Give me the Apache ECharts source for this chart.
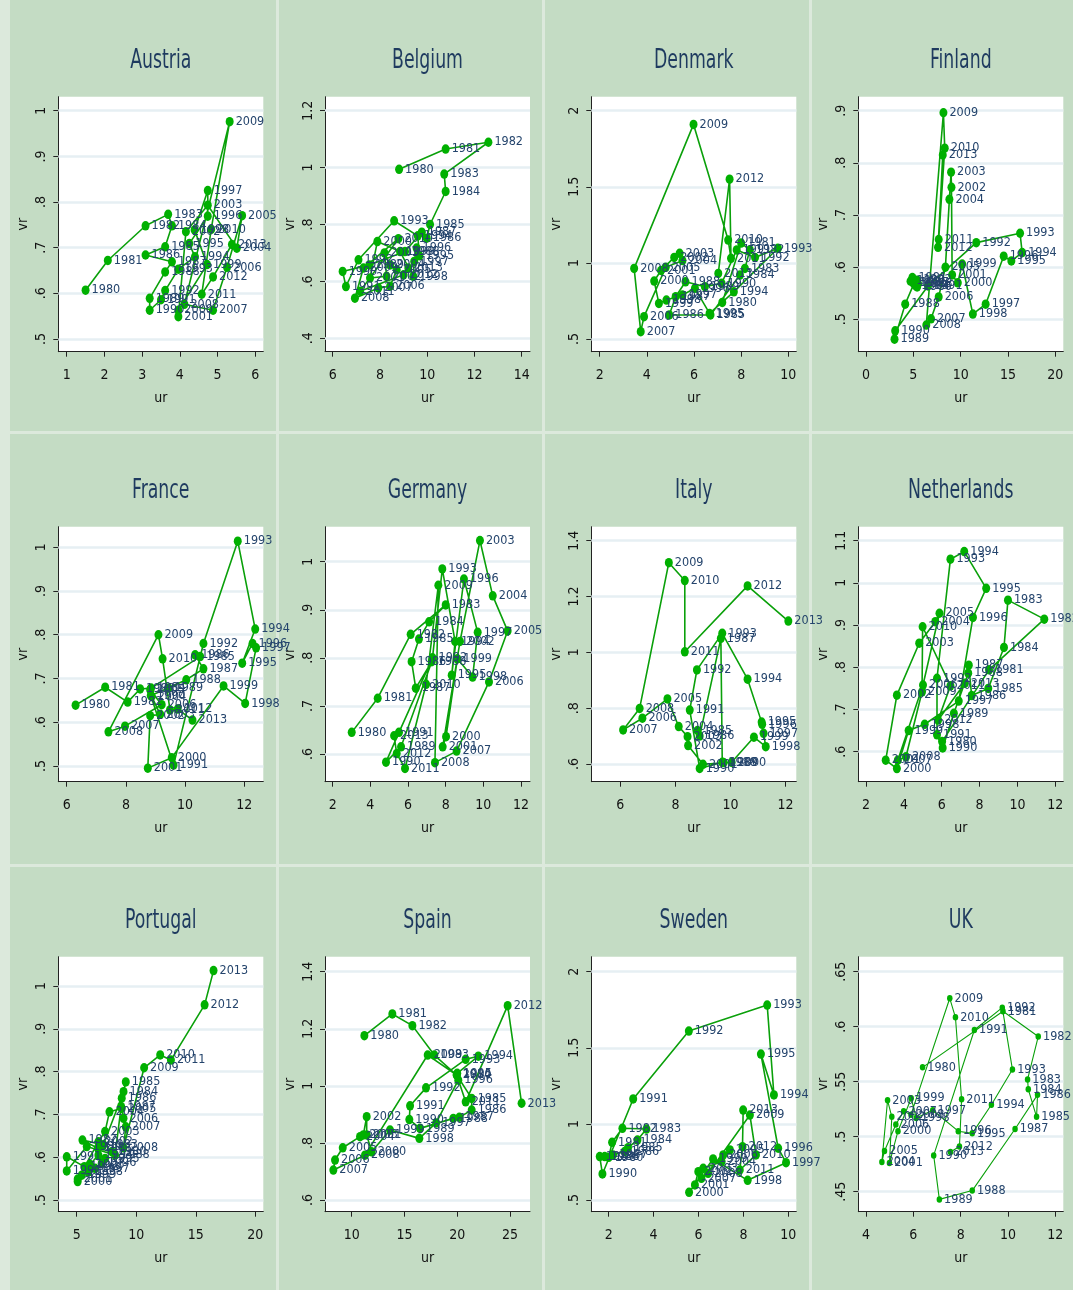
<!DOCTYPE html>
<html>
<head>
<meta charset="utf-8">
<script src="https://cdn.jsdelivr.net/npm/echarts@6/dist/echarts.min.js"></script>
<style>
  html, body { margin: 0; padding: 0; }
  #chart { width: 1073px; height: 1290px; }
</style>
</head>
<body>
<div id="chart"></div>
<script>
// beveridge curves, vr vs ur, one panel per country
var years = [1980,1981,1982,1983,1984,1985,1986,1987,1988,1989,1990,1991,1992,1993,1994,1995,1996,
  1997,1998,1999,2000,2001,2002,2003,2004,2005,2006,2007,2008,2009,2010,2011,2012,2013];

var austriaUr = [1.50,2.09,3.09,3.69,3.79,3.61,3.09,3.79,3.61,3.20,3.20,3.50,3.61,3.96,4.40,4.25,4.74,
  4.74,4.39,4.72,3.96,3.96,4.16,4.74,5.51,5.65,5.25,4.88,4.12,5.32,4.83,4.58,4.88,5.38];
var austriaVr = [0.607,0.672,0.748,0.773,0.748,0.702,0.684,0.669,0.647,0.589,0.563,0.586,0.606,0.653,0.680,0.709,0.769,
  0.825,0.739,0.663,0.563,0.549,0.735,0.793,0.699,0.770,0.657,0.563,0.576,0.976,0.740,0.598,0.636,0.707];

var belgiumUr = [8.81,10.78,12.59,10.72,10.78,10.12,9.98,9.77,9.06,7.55,6.42,6.56,7.09,8.60,9.60,9.67,9.55,
  9.45,9.41,8.85,7.89,7.58,8.28,8.19,8.43,8.71,8.43,7.93,6.94,7.30,8.78,7.16,9.00,9.20];
var belgiumVr = [0.994,1.065,1.089,0.977,0.916,0.800,0.752,0.773,0.705,0.658,0.635,0.582,0.676,0.813,0.760,0.690,0.717,
  0.670,0.618,0.705,0.740,0.612,0.618,0.700,0.658,0.641,0.583,0.577,0.541,0.647,0.750,0.565,0.623,0.647];

var denmarkUr = [7.20,8.00,8.37,8.16,7.95,6.70,4.95,5.22,5.64,6.46,7.17,7.81,8.59,9.56,7.69,6.66,6.04,
  5.51,4.83,4.51,4.31,4.60,5.16,5.39,5.51,4.80,3.88,3.74,3.46,5.98,7.45,7.57,7.51,7.03];
var denmarkVr = [0.74,1.13,1.085,0.964,0.92,0.658,0.658,0.778,0.876,0.844,0.866,1.085,1.036,1.096,0.81,0.668,0.833,
  0.789,0.756,0.734,0.881,0.95,1.036,1.063,1.015,0.971,0.647,0.548,0.964,1.91,1.15,1.03,1.55,0.931];

var finlandUr = [4.7,4.9,5.4,5.5,5.2,5.0,5.4,5.1,4.14,3.01,3.08,6.55,11.65,16.28,16.5,15.36,14.55,
  12.64,11.29,10.16,9.7,9.1,9.03,8.99,8.81,8.39,7.68,6.87,6.37,8.18,8.32,7.68,7.61,8.11];
var finlandVr = [0.573,0.58,0.575,0.568,0.565,0.57,0.562,0.57,0.529,0.462,0.478,0.564,0.647,0.665,0.628,0.612,0.621,
  0.529,0.510,0.606,0.570,0.585,0.753,0.782,0.730,0.600,0.543,0.501,0.489,0.896,0.828,0.653,0.638,0.815];

var franceUr = [6.30,7.30,8.06,8.48,8.85,10.51,10.34,10.62,10.04,9.44,8.84,9.61,10.62,11.78,12.37,11.93,12.28,
  12.40,12.03,11.30,9.55,8.74,8.82,9.16,8.87,8.82,9.21,7.97,7.41,9.10,9.24,9.49,9.75,10.25];
var franceVr = [0.639,0.680,0.646,0.676,0.678,0.750,0.754,0.722,0.697,0.678,0.661,0.502,0.780,1.014,0.813,0.735,0.780,
  0.770,0.643,0.683,0.519,0.495,0.615,0.618,0.659,0.674,0.640,0.591,0.578,0.800,0.745,0.628,0.630,0.605];

var germanyUr = [3.01,4.39,6.14,8.00,7.12,6.58,6.19,6.41,7.26,5.63,4.83,5.52,7.30,7.82,8.50,8.32,8.97,
  9.70,9.43,8.62,8.02,7.84,8.76,9.82,10.50,11.29,10.30,8.58,7.43,7.61,6.96,5.84,5.40,5.26];
var germanyVr = [0.645,0.716,0.849,0.910,0.875,0.839,0.792,0.737,0.792,0.615,0.583,0.645,0.800,0.985,0.834,0.764,0.964,
  0.853,0.760,0.798,0.636,0.615,0.834,1.044,0.929,0.856,0.750,0.606,0.582,0.951,0.745,0.570,0.601,0.638];

var italyUr = [null,null,null,null,null,8.80,8.88,9.65,9.70,9.75,8.88,8.52,8.78,9.70,10.62,11.13,11.15,
  11.20,11.28,10.85,10.04,9.00,8.46,8.44,8.12,7.71,6.80,6.10,6.70,7.76,8.34,8.34,10.62,12.10];
var italyVr = [null,null,null,null,null,0.72,0.70,1.050,0.606,0.605,0.584,0.793,0.937,1.068,0.904,0.750,0.742,
  0.710,0.662,0.696,0.606,0.599,0.666,0.698,0.734,0.833,0.764,0.722,0.799,1.321,1.257,1.002,1.238,1.112];

var netherlandsUr = [6.02,8.50,11.42,9.50,9.29,8.46,7.58,7.43,7.40,6.64,6.05,5.75,5.75,6.46,7.19,8.35,7.65,
  6.90,5.10,4.25,3.63,3.04,3.63,4.81,5.66,5.88,5.01,3.68,4.11,4.96,4.99,6.46,5.81,7.22];
var netherlandsVr = [0.624,0.794,0.914,0.959,0.847,0.750,0.733,0.805,0.786,0.691,0.609,0.640,0.774,1.056,1.074,0.987,0.918,
  0.720,0.665,0.650,0.560,0.580,0.734,0.857,0.908,0.928,0.758,0.580,0.588,0.742,0.896,0.756,0.675,0.762];

var portugalUr = [7.94,6.77,5.48,7.24,8.93,9.12,8.78,8.73,8.22,5.84,4.16,4.16,5.64,6.12,6.82,7.38,7.10,
  6.54,5.98,5.42,5.08,5.08,6.82,7.38,7.75,8.78,8.93,9.12,8.93,10.66,12.01,12.91,15.74,16.49];
var portugalVr = [0.613,0.621,0.640,0.629,0.753,0.776,0.738,0.718,0.605,0.625,0.568,0.601,0.578,0.583,0.605,0.597,0.586,
  0.574,0.566,0.558,0.543,0.549,0.636,0.660,0.706,0.714,0.691,0.671,0.622,0.809,0.839,0.827,0.956,1.036];

var spainUr = [11.20,13.85,15.75,17.83,19.95,21.37,21.37,20.20,19.63,16.47,15.46,15.53,17.04,20.80,22.00,20.00,20.10,
  18.00,16.41,13.63,11.89,11.42,11.42,11.10,10.79,9.15,8.42,8.26,11.26,17.20,19.95,20.80,24.78,26.10];
var spainVr = [1.176,1.252,1.211,1.108,1.038,0.956,0.915,0.890,0.886,0.851,0.882,0.930,0.993,1.093,1.104,1.044,1.020,
  0.870,0.816,0.845,0.769,0.828,0.892,0.828,0.822,0.783,0.740,0.705,0.757,1.108,1.038,0.944,1.281,0.939];

var swedenUr = [2.00,2.15,2.61,3.68,3.28,2.86,2.71,2.19,1.82,1.60,1.72,3.09,5.57,9.06,9.36,8.78,9.55,
  9.90,8.19,6.65,5.58,5.84,5.99,6.21,7.03,7.40,7.10,6.13,6.43,8.29,8.56,7.84,7.96,7.99];
var swedenVr = [0.780,0.879,0.971,0.966,0.894,0.844,0.818,0.796,0.785,0.785,0.671,1.164,1.610,1.781,1.190,1.459,0.840,
  0.745,0.629,0.770,0.550,0.599,0.686,0.708,0.752,0.829,0.796,0.642,0.675,1.058,0.796,0.697,0.850,1.091];

var ukUr = [6.39,9.79,11.28,10.83,10.86,11.21,11.25,10.30,8.49,7.10,6.86,8.58,9.76,10.19,9.30,8.49,7.90,
  6.82,6.12,5.91,5.35,4.99,5.09,4.91,4.67,4.78,5.26,5.59,5.90,7.54,7.78,8.04,7.95,7.57];
var ukVr = [0.563,0.614,0.591,0.552,0.543,0.518,0.538,0.507,0.451,0.443,0.483,0.597,0.6173,0.561,0.529,0.503,0.505,
  0.524,0.517,0.535,0.505,0.476,0.518,0.533,0.477,0.487,0.511,0.523,0.520,0.6258,0.6085,0.534,0.491,0.486];

// tick values
var austriaX = [1,2,3,4,5,6],        austriaY = [0.5,0.6,0.7,0.8,0.9,1];
var belgiumX = [6,8,10,12,14],       belgiumY = [0.4,0.6,0.8,1,1.2];
var denmarkX = [2,4,6,8,10],         denmarkY = [0.5,1,1.5,2];
var finlandX = [0,5,10,15,20],       finlandY = [0.5,0.6,0.7,0.8,0.9];
var franceX = [6,8,10,12],           franceY = [0.5,0.6,0.7,0.8,0.9,1];
var germanyX = [2,4,6,8,10,12],      germanyY = [0.6,0.7,0.8,0.9,1];
var italyX = [6,8,10,12],            italyY = [0.6,0.8,1,1.2,1.4];
var netherlandsX = [2,4,6,8,10,12],  netherlandsY = [0.6,0.7,0.8,0.9,1,1.1];
var portugalX = [5,10,15,20],        portugalY = [0.5,0.6,0.7,0.8,0.9,1];
var spainX = [10,15,20,25],          spainY = [0.6,0.8,1,1.2,1.4];
var swedenX = [2,4,6,8,10],          swedenY = [0.5,1,1.5,2];
var ukX = [4,6,8,10,12],             ukY = [0.45,0.5,0.55,0.6,0.65];

var panels = [
  {name:'Austria', ur:austriaUr, vr:austriaVr, xt:austriaX, yt:austriaY, xr:[0.777,6.212], yr:[0.4722,1.0307]},
  {name:'Belgium', ur:belgiumUr, vr:belgiumVr, xt:belgiumX, yt:belgiumY, xr:[5.674,14.35], yr:[0.353,1.249]},
  {name:'Denmark', ur:denmarkUr, vr:denmarkVr, xt:denmarkX, yt:denmarkY, xr:[1.643,10.34], yr:[0.4166,2.092]},
  {name:'Finland', ur:finlandUr, vr:finlandVr, xt:finlandX, yt:finlandY, xr:[-0.818,20.85], yr:[0.4379,0.9268]},
  {name:'France', ur:franceUr, vr:franceVr, xt:franceX, yt:franceY, xr:[5.716,12.643], yr:[0.464,1.047]},
  {name:'Germany', ur:germanyUr, vr:germanyVr, xt:germanyX, yt:germanyY, xr:[1.591,12.478], yr:[0.5424,1.0728]},
  {name:'Italy', ur:italyUr, vr:italyVr, xt:italyX, yt:italyY, xr:[4.945,12.389], yr:[0.5366,1.450]},
  {name:'Netherlands', ur:netherlandsUr, vr:netherlandsVr, xt:netherlandsX, yt:netherlandsY, xr:[1.591,12.425], yr:[0.529,1.133]},
  {name:'Portugal', ur:portugalUr, vr:portugalVr, xt:portugalX, yt:portugalY, xr:[3.452,20.67], yr:[0.4727,1.0685]},
  {name:'Spain', ur:spainUr, vr:spainVr, xt:spainX, yt:spainY, xr:[7.469,26.896], yr:[0.559,1.4526]},
  {name:'Sweden', ur:swedenUr, vr:swedenVr, xt:swedenX, yt:swedenY, xr:[1.224,10.357], yr:[0.423,2.0986]},
  {name:'UK', ur:ukUr, vr:ukVr, xt:ukX, yt:ukY, xr:[3.673,12.34], yr:[0.4318,0.6636], small:true}
];

var FONT = "'DejaVu Sans Condensed','Liberation Sans Narrow',sans-serif";
var colLeft = [58.3, 325, 591.3, 858.3];
var rowTop = [96.7, 526.7, 956.7];
var plotW = 205, plotH = 255;

function fmt(v) {
  var s = String(+v.toFixed(3));
  return s.replace(/^0\./, '.');
}

var grids = [], xAxes = [], yAxes = [], series = [], graphics = [];

// panel backdrops
var panelX = [[10,276],[279,542],[545,809],[812,1073]];
var panelY = [[0,431],[434,864],[867,1290]];
panelX.forEach(function (px) {
  panelY.forEach(function (py) {
    graphics.push({type:'rect', z:-100, shape:{x:px[0], y:py[0], width:px[1]-px[0], height:py[1]-py[0]},
      style:{fill:'#c4dcc4'}});
  });
});

panels.forEach(function (p, i) {
  var c = i % 4, r = Math.floor(i / 4);
  grids.push({left: colLeft[c], top: rowTop[r], width: plotW, height: plotH,
    show: true, backgroundColor: '#ffffff', borderWidth: 0, containLabel: false, outerBoundsMode: 'none'});

  xAxes.push({gridIndex: i, type: 'value', min: p.xr[0], max: p.xr[1],
    axisLine: {show: true, onZero: false, lineStyle: {color: '#222', width: 1}},
    axisTick: {show: true, customValues: p.xt, length: 5, lineStyle: {color: '#222'}},
    axisLabel: {customValues: p.xt, formatter: fmt, fontSize: 14, color: '#111', margin: 17, fontFamily: FONT},
    splitLine: {show: false},
    name: 'ur', nameLocation: 'middle', nameGap: 40,
    nameTextStyle: {fontSize: 14, color: '#111', fontFamily: FONT}});

  yAxes.push({gridIndex: i, type: 'value', min: p.yr[0], max: p.yr[1],
    axisLine: {show: true, onZero: false, lineStyle: {color: '#222', width: 1}},
    axisTick: {show: true, customValues: p.yt, length: 5, lineStyle: {color: '#222'}},
    axisLabel: {customValues: p.yt, formatter: fmt, rotate: 90, fontSize: 14, color: '#111', margin: 10, fontFamily: FONT},
    splitLine: {show: false},
    name: 'vr', nameLocation: 'middle', nameGap: 28,
    nameTextStyle: {fontSize: 14, color: '#111', fontFamily: FONT}});

  var pts = [];
  for (var k = 0; k < years.length; k++) {
    if (p.ur[k] == null || p.vr[k] == null) continue;
    pts.push([p.ur[k], p.vr[k], years[k]]);
  }

  series.push({type: 'line', xAxisIndex: i, yAxisIndex: i, data: pts, z: 2,
    symbol: 'circle', symbolSize: p.small ? [5.5, 6.5] : [8, 9.5], showSymbol: true, clip: false,
    lineStyle: {color: '#0aa00a', width: p.small ? 1.1 : 1.6},
    itemStyle: {color: '#00b000'},
    label: {show: true, position: 'right', distance: 2, color: '#24446c', fontSize: 12.5, fontFamily: FONT,
      formatter: function (q) { return q.value[2]; }},
    emphasis: {disabled: true},
    markLine: {silent: true, z: 1, symbol: ['none', 'none'], label: {show: false},
      lineStyle: {color: '#e6eff3', width: 2.5, type: 'solid'},
      emphasis: {disabled: true},
      data: p.yt.map(function (v) { return {yAxis: v}; })}});

  graphics.push({type: 'text', z: 100, x: colLeft[c] + plotW / 2, y: rowTop[r] - 35, scaleX: 0.74,
    style: {text: p.name, font: '26px ' + FONT, fill: '#1e3a5f', align: 'center', verticalAlign: 'middle',
      textAlign: 'center', textVerticalAlign: 'middle'}});
});

var chart = echarts.init(document.getElementById('chart'), null, {renderer: 'canvas'});
chart.setOption({
  animation: false,
  backgroundColor: '#dce9dc',
  graphic: graphics,
  grid: grids,
  xAxis: xAxes,
  yAxis: yAxes,
  series: series
});
</script>
</body>
</html>
